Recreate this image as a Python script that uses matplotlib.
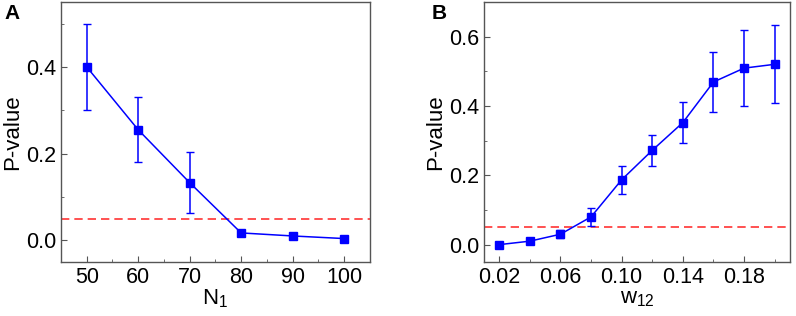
import numpy as np
import matplotlib
matplotlib.use('Agg')
import matplotlib.pyplot as plt
from matplotlib.ticker import MultipleLocator, FixedLocator

plt.rcParams['font.family'] = ['Liberation Sans', 'DejaVu Sans']

# panel A: P-value vs N1
n1 = [50, 60, 70, 80, 90, 100]
p_a = [0.400, 0.255, 0.133, 0.017, 0.010, 0.004]
err_a = [0.100, 0.075, 0.070, 0.006, 0.002, 0.002]

# panel B: P-value vs w12
w12 = [0.02, 0.04, 0.06, 0.08, 0.10, 0.12, 0.14, 0.16, 0.18, 0.20]
p_b = [0.000, 0.010, 0.030, 0.080, 0.187, 0.272, 0.352, 0.469, 0.509, 0.520]
err_b = [0.002, 0.003, 0.012, 0.027, 0.040, 0.045, 0.060, 0.087, 0.109, 0.112]

threshold = 0.05

fig = plt.figure(figsize=(7.96, 3.16), dpi=100)
axA = fig.add_axes([0.0766, 0.171, 0.388, 0.823])
axB = fig.add_axes([0.608, 0.171, 0.3844, 0.823])

edge = '#555555'
for ax, x, y, e in [(axA, n1, p_a, err_a), (axB, w12, p_b, err_b)]:
	ax.errorbar(x, y, yerr=e, color='blue', marker='s', markersize=6, lw=1.1,
		capsize=3, capthick=1, elinewidth=1.1, zorder=3)
	ax.axhline(threshold, color='#ff3333', ls=(0, (5, 3)), lw=1.2, zorder=2)
	for s in ax.spines.values():
		s.set_color(edge)
		s.set_linewidth(1.0)
	ax.tick_params(which='both', direction='in', color=edge, labelsize=15.5)
	ax.tick_params(which='major', length=4)
	ax.tick_params(which='minor', length=2.5)
	ax.set_ylabel('P-value', fontsize=16, labelpad=2)

axA.set_xlim(45, 105)
axA.set_ylim(-0.05, 0.55)
axA.xaxis.set_major_locator(MultipleLocator(10))
axA.xaxis.set_minor_locator(MultipleLocator(5))
axA.yaxis.set_major_locator(MultipleLocator(0.2))
axA.yaxis.set_minor_locator(MultipleLocator(0.1))
axA.set_xlabel('N$_\\mathregular{1}$', fontsize=16, labelpad=0)

axB.set_xlim(0.01, 0.21)
axB.set_ylim(-0.05, 0.7)
axB.xaxis.set_major_locator(FixedLocator([0.02, 0.06, 0.10, 0.14, 0.18]))
axB.xaxis.set_minor_locator(FixedLocator([0.04, 0.08, 0.12, 0.16, 0.20]))
axB.set_xticklabels(['0.02', '0.06', '0.10', '0.14', '0.18'])
axB.yaxis.set_major_locator(MultipleLocator(0.2))
axB.yaxis.set_minor_locator(MultipleLocator(0.1))
axB.set_xlabel('w$_\\mathregular{12}$', fontsize=16, labelpad=0)

fig.text(0.006, 0.94, 'A', fontsize=15, fontweight='bold')
fig.text(0.542, 0.94, 'B', fontsize=15, fontweight='bold')

fig.savefig('out.png', dpi=100)
